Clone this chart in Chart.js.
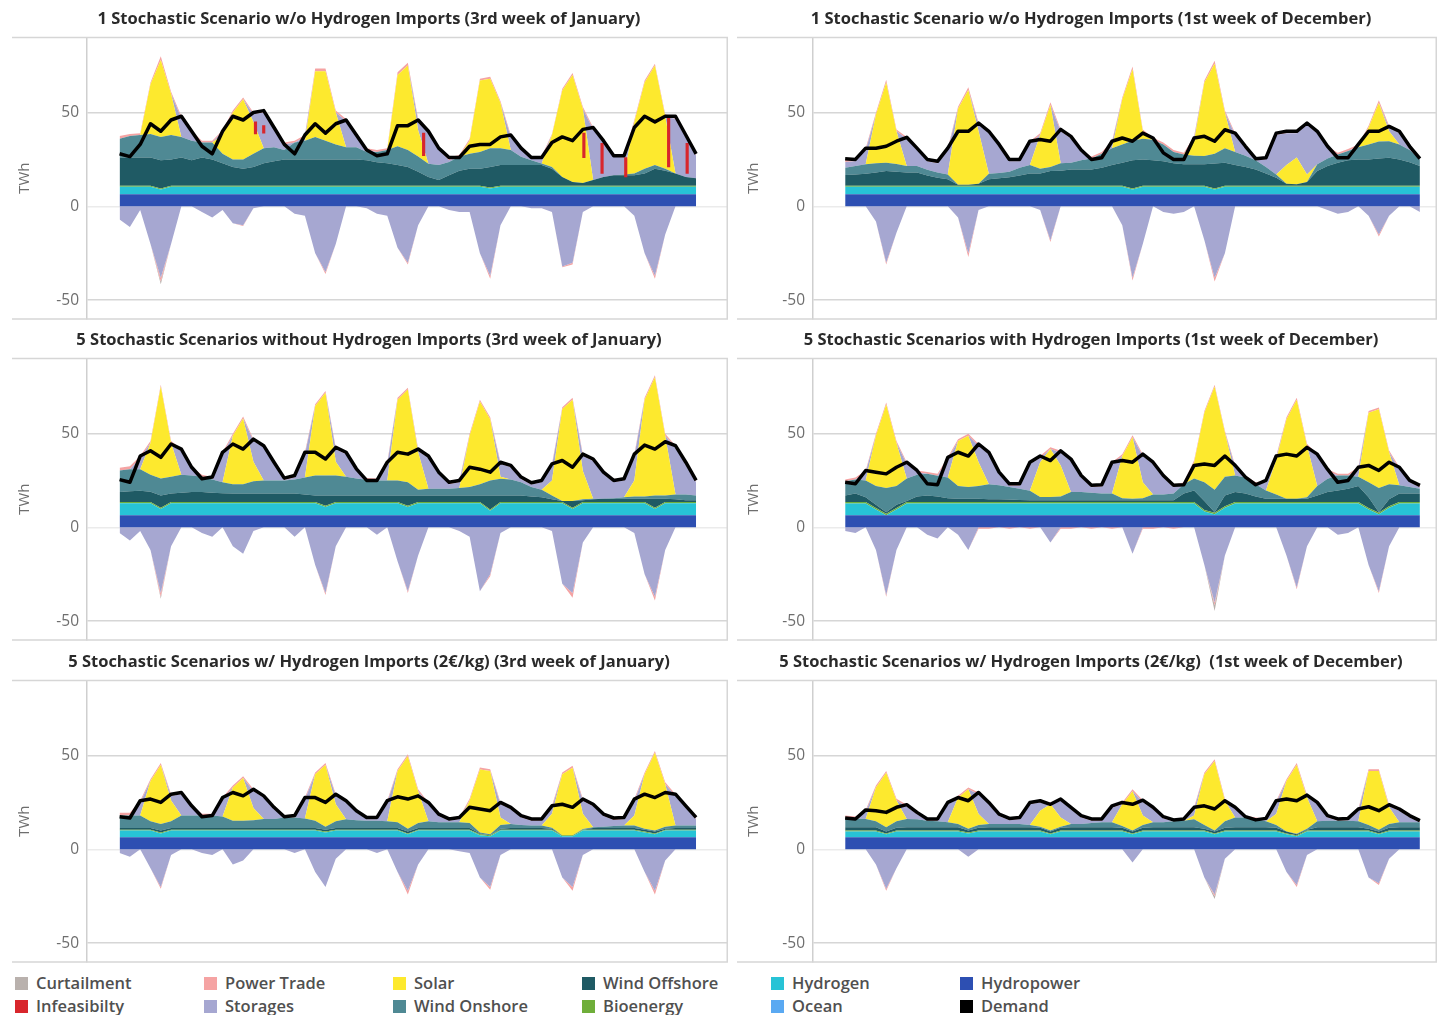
<!DOCTYPE html>
<html>
<head>
<meta charset="utf-8">
<script src="https://cdn.jsdelivr.net/npm/chart.js@4.4.1/dist/chart.umd.min.js"></script>
<style>
  body { margin: 0; background: #fff; width: 1437px; height: 1015px; overflow: hidden; position: relative; font-family: 'Open Sans', sans-serif; }
  canvas { position: absolute; }
  .item { position: absolute; font-size: 16.5px; font-weight: 600; color: #505050; white-space: nowrap; line-height: 20px; }
  .box { display: inline-block; width: 13px; height: 13px; margin-right: 8px; vertical-align: -1px; }
</style>
</head>
<body>
<canvas id="c0" width="720" height="320" style="left:10px;top:2px"></canvas>
<canvas id="c1" width="702" height="320" style="left:735px;top:2px"></canvas>
<canvas id="c2" width="720" height="320" style="left:10px;top:323px"></canvas>
<canvas id="c3" width="702" height="320" style="left:735px;top:323px"></canvas>
<canvas id="c4" width="720" height="320" style="left:10px;top:645px"></canvas>
<canvas id="c5" width="702" height="320" style="left:735px;top:645px"></canvas>
<div id="legend"></div>
<script>
// sample hours (every 3 h over one week)
const hours = [0,3,6,9,12,15,18,21, 24,27,30,33,36,39,42,45, 48,51,54,57,60,63,66,69, 72,75,78,81,84,87,90,93,
  96,99,102,105,108,111,114,117, 120,123,126,129,132,135,138,141, 144,147,150,153,156,159,162,165, 168];
const yTicks = [-50, 0, 50];

const panelTitles = [
  '1 Stochastic Scenario w/o Hydrogen Imports (3rd week of January)',
  '1 Stochastic Scenario w/o Hydrogen Imports (1st week of December)',
  '5 Stochastic Scenarios without Hydrogen Imports (3rd week of January)',
  '5 Stochastic Scenarios with Hydrogen Imports (1st week of December)',
  '5 Stochastic Scenarios w/ Hydrogen Imports (2€/kg) (3rd week of January)',
  '5 Stochastic Scenarios w/ Hydrogen Imports (2€/kg)  (1st week of December)'
];

const legendLabels = ['Curtailment', 'Power Trade', 'Solar', 'Wind Offshore', 'Hydrogen', 'Hydropower',
  'Infeasibilty', 'Storages', 'Wind Onshore', 'Bioenergy', 'Ocean', 'Demand'];
const colors = {
  'Curtailment': '#b9b1ad', 'Infeasibilty': '#d8262c', 'Power Trade': '#f5a3a3', 'Storages': '#a6a7d1',
  'Solar': '#fde92e', 'Wind Onshore': '#4f8994', 'Wind Offshore': '#1f5a64', 'Bioenergy': '#6fae3a',
  'Hydrogen': '#27c3d6', 'Ocean': '#5aa9f2', 'Hydropower': '#2d4fb2', 'Demand': '#000000'
};

// per panel constant layers (TWh)
const hydroLevel = [6.5, 6.5, 6.5, 6.5, 6.5, 6.5];
const bioLevel = [0.5, 0.5, 0.7, 0.8, 0.5, 0.5];

// ---- panel 1: 1 scenario, January
const p1Hydrogen = [4,4,4,4,2.5,4,4,4, 4,4,4,4,4,4,4,4, 4,4,4,4,4,4,4,4, 4,4,4,4,4,4,4,4, 4,4,4,4,3,4,4,4, 4,4,4,4,4,4,4,4, 4,4,4,4,4,4,4,4, 4];
const p1Offshore = [15,15,15,15,15,14,15,13.5, 15,14,12,10,9,10,12,13, 14,14,14,14,14,14,14,14, 13.5,12.5,12,11,10,7.5,4.7,3, 5.6,8,9,9,11,11,11,11, 11,11,9,4.7,2,1.5,3,4.7, 5.6,5.6,5.6,6.5,9,8,6.5,4.7, 4];
const p1Onshore = [10,11.5,12,12.5,12.5,13,11,10.5, 8,9,5,4,5,7,8,7.5, 5,9,10,12,10,8,6.5,6.5, 4.5,5.5,7,10,9,8,7,8, 7,7.4,8,9,10,9,8,4.4, 2.6,0.8,1,0,0,0,0,0, 0,0.4,0.9,2.5,2,1,0,0, 0];
const p1Solar = [0,0,0,26.5,41,22,0,0, 0,0,10,25,32,17,0,0, 0,0,0,35,37,17,0,0, 0,0,0,38,45,14,0,0, 0,0,7,38,37,24,0,0, 0,0,17,46,57,39.5,0,0, 0,0,27.5,46,53,28,0,0, 0];
const p1StoragePos = [0,0,0,0,0,0,10,4, 0,0,2,0,0,4,19,10, 3,0,2,0,0,0,14,6, 1,0,0,0,0,5,16,8, 1,0,0,0,0,0,7,4, 1,3,0,0,0,0,27,18, 10,9,0,0,0,0,29,21, 12];
const p1TradePos = [1.5,1,1,1,2,1,1,1, 1,1,0.5,1,1,1,1,1, 1,1,1,1.5,1.5,1,1,1, 1,1,1,1.5,1.5,1,1,1, 1.5,1,1,1,1,1,1,1, 1,1,0.5,1,1,1,1,1, 1,1,1,1,1,1,1,1, 1];
const p1StorageNeg = [-7,-11,-2,-20,-38,-20,0,0, -3,-6,-2,-9,-10,-1,0,0, 0,-4,-5,-25,-35,-20,0,0, -1,-4,-5,-22,-30,-10,0,0, -2,-3,-3,-25,-37,-10,0,0, -1,-1,-3,-32,-30,-3,0,0, 0,0,-5,-25,-37,-15,0,0, 0];
const p1TradeNeg = [0,0,0,0,-2,0,0,0, 0,0,0,0,-0.5,0,0,0, 0,0,0,0,-1,0,0,0, 0,0,0,0,-1,0,0,0, 0,0,0,0,-1.5,0,0,0, 0,0,0,-0.5,-1,0,0,0, 0,0,0,0,-1.5,0,0,0, 0];
const p1Curtail = [0,0,0,0,-1.5,0,0,0, 0,0,0,0,0,0,0,0, 0,0,0,0,0,0,0,0, 0,0,0,0,0,0,0,0, 0,0,0,0,0,0,0,0, 0,0,0,0,0,0,0,0, 0,0,0,0,0,0,0,0, 0];
const p1Demand = [28,26.5,33,44,40,46,48,40, 32,28,40,48,46,50,51,42, 33,28,38,44,39,44,46,38, 30,27,28,43,43,46,40,31, 26,26,32,33,33,37,38,31, 26,26,34,37,35,41,42,35, 27,27,42,48,45,48,48,38, 28];
const p1InfeasHours = [39.6, 42, 88.6, 135.3, 140.6, 147.5, 160, 165.4];
const p1InfeasLow = [38.6, 39, 27, 26, 17.5, 15.7, 21, 17.5];
const p1InfeasHigh = [45, 43, 39, 39, 33.6, 26, 48, 33.6];

// ---- panel 2: 1 scenario, December
const p2Hydrogen = [4,4,4,4,4,4,4,4, 4,4,4,4,4,4,4,4, 4,4,4,4,4,4,4,4, 4,4,4,4,2.5,4,4,4, 4,4,4,4,2.5,4,4,4, 4,4,4,4,4,4,4,4, 4,4,4,4,4,4,4,4, 4];
const p2Offshore = [5.7,6,6.4,7,7.8,7.5,7,7, 5.5,4.3,3.5,0.5,0.5,1,3.5,4, 4.5,5.5,6.5,6.5,7.8,8,8.7,8.7, 8.7,9.5,11,12.2,15,14,13.5,13, 12,11.4,11.4,11.4,13.3,12.2,11,10, 8.7,6.5,4.3,1,0.8,2,7.8,10.5, 12.2,13.5,14,14,14.5,14.9,14,12.5, 10.5];
const p2Onshore = [3.9,4.5,5,5,4.4,4,3.5,3.5, 3,2.7,2.5,0,0,0,2.9,2.8, 3,4,4.5,2.5,2.2,4,3.5,4.8, 5.8,7.5,9,9.8,10.5,11,11,9, 6,5.2,4.6,4.4,5.2,7.8,7,6, 4.8,3.5,1.7,0,0,0,3.6,4, 4.4,5,6.5,8,9,8.8,8,6.5, 3.5];
const p2Solar = [0,0,0,25.8,42.8,17.5,0,0, 0,0,0,40.5,50.5,28,0,0, 0,0,0,18,33,0,0,0, 0,0,0,24,38,4,0,0, 0,0,8,39.2,48,19,0,0, 0,0,0,10,14.2,4,0,0, 0,0,0,9,20.5,5.3,0,0, 0];
const p2StoragePos = [3,2.5,7.5,0,0,0,14.5,8.5, 4.5,5,13,0,0,3.5,21.6,14, 5.5,3.5,11.7,0,0,17,13,4.5, 0,0,2.7,0,0,0,0,0, 0,0,1.4,0,0,0,9,4, 0,4,21,17,13,26.4,16.6,5.5, 0,0,0.5,0,0,2,6,1, 0];
const p2TradePos = [1.5,1,1,1,1.5,1,1,1, 1,1,1,1,1.5,1,1,1, 1,1,1,1,1.5,1,1,1, 1,1,1,1,1.5,1,1,1, 1,1,1,1,1.5,1,1,1, 1,1,1,1,1,1,1,1, 1,1,1,1,1.5,1,1,1, 1];
const p2StorageNeg = [0,0,0,-8,-30,-14,0,0, 0,0,0,-6,-25,-2,0,0, 0,0,0,-2,-18,0,0,0, 0,0,0,-10,-38,-20,0,-3, -4,-3,0,-18,-38,-25,0,0, 0,0,0,0,0,0,0,-2, -4,-3,0,-5,-15,-5,0,0, -3];
const p2TradeNeg = [0,0,0,0,-1,0,0,0, 0,0,0,0,-2,0,0,0, 0,0,0,0,-1,0,0,0, 0,0,0,0,-1.5,0,0,0, 0,0,0,0,-2,0,0,0, 0,0,0,0,0,0,0,0, 0,0,0,0,-1,0,0,0, 0];
const p2Curtail = [0,0,0,0,0,0,0,0, 0,0,0,0,0,0,0,0, 0,0,0,0,0,0,0,0, 0,0,0,0,0,0,0,0, 0,0,0,0,0,0,0,0, 0,0,0,0,0,0,0,0, 0,0,0,0,0,0,0,0, 0];
const p2Demand = [25.4,25,31,31,32,34.7,36.8,31, 25,24,31,40,40,44.4,40,33, 25,25,34.7,35.6,34.7,41,37.3,30, 25,25.9,34.7,36.4,34.7,39,36.4,28.5, 25,25,36.4,37.3,34.7,40.8,39,32, 25.4,25.9,39,40,40,44.4,40,32, 25.9,25.9,33,40,40,42.6,40,32, 25.4];

// ---- panel 3: 5 scenarios without H2, January
const p3Hydrogen = [6.3,6.3,6.3,6.3,3.3,6.3,6.3,6.3, 6.3,6.3,6.3,6.3,6.3,6.3,6.3,6.3, 6.3,6.3,6.3,6.3,4.3,6.3,6.3,6.3, 6.3,6.3,6.3,6.3,4.3,6.3,6.3,6.3, 6.3,6.3,6.3,6.3,2.3,6.3,6.3,6.3, 6.3,6.3,6.3,6.3,3.3,6.3,6.3,6.3, 6.3,6.3,6.3,6.3,3.3,6.3,6.3,6.3, 6.3];
const p3Offshore = [5.3,5.7,6,5.5,6.5,4.5,5,5.3, 5.3,5,4.7,4.5,4.5,4.5,4.5,4.5, 4.5,4.5,4,3.5,5.5,3.5,3.5,3.5, 3.5,3.5,3.5,3.5,5.5,3.5,3.5,3.5, 3.5,3.5,3.5,3.5,7.5,3.5,3.5,3.5, 3,2.5,1.5,0.5,3.5,1,1.5,1.8, 1.8,1.8,1.8,1.8,4.8,1.8,1.5,1, 0.9];
const p3Onshore = [11.5,11.8,11.5,9,9,9,9.5,8.8, 8.2,7,5.8,5,5,6.5,7,7, 7,7.5,9,10.6,10.6,10.6,10,9, 8.3,8,8,8,7,3,3.6,3.6, 3.6,4,4.5,6,8,8.9,8.5,7, 5,4,2,0,0,0.5,0.3,0, 0.2,0.7,1.2,1.2,1.7,1.7,2.5,3, 2.6];
const p3Solar = [0,0,0,17,49,18,0,0, 0,0,0,25.8,35,10.5,0,0, 0,0,0,37,44.1,7.4,0,0, 0,0,0,43,49.4,20,0,0, 0,0,27.3,44,32.6,1.1,0,0, 0,0,8,49,54,15,0,0, 0,0,8.5,51.5,63,31.8,0,0, 0];
const p3StoragePos = [0,0,6,0,0,0,12.7,3.4, 0,0.3,15,0,0,11,17.5,8.7, 0.2,1.1,12.5,0,0,6.6,12,4.2, 0,0,8.7,0,0,0.7,16.4,7.8, 2.4,3,0,0,0,6.7,6.5,1.8, 1.3,4,7.8,0,0,8,20,13, 8.5,8.9,13,0,0,0,25,16, 7];
const p3TradePos = [1.5,1.5,1,1,1,1,1,1, 1,1,1,1,1,1,1,1, 1,1,1,1,1,1,1,1, 1,1,1,1,1,1,1,1, 1,1,1,1,1,1,1,1, 1,1,1,1,1,1,1,1, 1,1,1,1,1,1,1,1, 1];
const p3StorageNeg = [-3,-7,-2,-12,-35,-10,0,0, -3,-5,0,-10,-14,-2,0,0, 0,-5,0,-20,-35,-10,0,0, 0,-4,0,-18,-34,-15,0,0, 0,-2,-5,-34,-25,-3,0,0, 0,0,-2,-30,-35,-8,0,0, 0,0,-3,-25,-37,-12,0,0, 0];
const p3TradeNeg = [0,0,0,0,-2,0,0,0, 0,0,0,0,0,0,0,0, 0,0,0,0,-1,0,0,0, 0,0,0,0,-1,0,0,0, 0,0,0,0,-1,0,0,0, 0,0,0,0,-2.5,0,0,0, 0,0,0,0,-2,0,0,0, 0];
const p3Curtail = [0,0,0,0,-1,0,0,0, 0,0,0,0,0,0,0,0, 0,0,0,0,0,0,0,0, 0,0,0,0,0,0,0,0, 0,0,0,0,0,0,0,0, 0,0,0,0,0,0,0,0, 0,0,0,0,0,0,0,0, 0];
const p3Demand = [25.4,24,38,40.8,37.3,44.4,41.7,32, 25.9,26.8,40,44.4,41.7,47,43.5,34.7, 26.2,27.6,40,40,36.4,42.6,40,31.2, 25,25,34.7,40,39,41.7,38,29.4, 24,25,32,31,29.4,34.7,33,26.8, 23.8,25,33.8,35.6,32,39,36.4,29.4, 25,25.9,39,43.8,41.7,45.6,43.5,34.7, 25];

// ---- panel 4: 5 scenarios with H2, December
const p4Hydrogen = [6.2,6.2,6.2,3,0,3,6.2,6.2, 6.2,6.2,6.2,6.2,6.2,6.2,6.2,6.2, 6.2,6.2,6.2,6.2,6.2,6.2,6.2,6.2, 6.2,6.2,6.2,6.2,6.2,6.2,6.2,6.2, 6.2,6.2,6.2,2,0.5,4,6.2,6.2, 6.2,6.2,6.2,6.2,6.2,6.2,6.2,6.2, 6.2,6.2,6.2,3,0.5,4,6.2,6.2, 6.2];
const p4Offshore = [3.5,4.5,2.5,1.7,0.7,1.7,0.5,3, 3.5,3,2,1.8,1.8,1.8,1.5,1.5, 1.3,1.1,1,0.9,0.9,0.9,0.9,0.9, 0.9,0.9,0.9,0.9,0.9,0.9,0.9,0.9, 0.9,4.5,6.2,4.7,0.2,5.7,5.3,4.5, 3,1.8,1.8,1.8,1.8,1.8,3.5,5.3, 6.2,7.1,8.5,5.7,0.2,3.7,4.5,4.5, 4.5];
const p4Onshore = [7.5,7.5,9,10,13,10,12,11.5, 11.5,11,11,6.7,6.2,6.7,8,7.4, 6.7,6,5,1.8,1.8,2.1,4.4,4.4, 4.1,3.6,3.6,1.1,0.9,1.1,3.1,3.1, 3.6,5,6.3,10,12,10,8.8,8.5, 6.5,4.4,2.2,0,0,0.7,5,7.1, 7.9,7,5,8,13,8,4.4,3.5, 2.6];
const p4Solar = [0,0,0,26.8,44.5,23,0,0, 0,0,0,24,27.3,12.7,0,0, 0,0,0,18.5,25.5,16.5,0,0, 0,0,0,22.5,32.7,8.5,0,0, 0,0,8.7,37,55,23.5,0,0, 0,0,18.5,42.3,52.7,27.5,0,0, 0,0,0,37,41.9,17,0,0, 0];
const p4StoragePos = [0,0,4.3,0,0,0,7.7,1.3, 0,0,9.8,0,0,8.7,16,6, 0.7,1.6,14.2,2.3,0,6.8,16.6,7.8, 2.9,3.7,15.7,0,0,14,16.2,9.1, 3.4,0,0,0,0,0,4.4,0, 0,4.3,1,0,0,0,16,4.1, 0,0,4,0,0,0,8.6,2.5, 0.8];
const p4TradePos = [1,1,1,1,1,1,1,1, 1,1,1,1,1,1,1,1, 1,1,1,1,1,1,1,1, 1,1,1,1,1,1,1,1, 1,1,1,1,1,1,1,1, 1,1,1,1,1,1,1,1, 1,1,1,1,1,1,1,1, 1];
const p4StorageNeg = [-2,-3,0,-12,-36,-12,0,0, -4,-6,0,-4,-12,0,0,0, 0,0,0,0,-8,0,0,0, 0,0,0,0,-14,0,0,0, 0,0,0,-20,-40,-15,0,0, 0,0,0,-15,-32,-10,0,0, -4,-3,0,-20,-34,-10,0,0, 0];
const p4TradeNeg = [0,0,0,0,-1,0,0,0, 0,0,0,0,0,-0.8,-0.8,0, -0.8,0,-0.8,0,0,-0.8,-0.8,0, -0.8,0,-0.8,0,0,-0.8,-0.8,0, -0.8,0,0,0,-1.5,0,0,0, 0,0,0,0,-1,0,0,0, 0,0,0,0,-1,0,0,0, 0];
const p4Curtail = [0,0,0,0,0,0,0,0, 0,0,0,0,0,0,0,0, 0,0,0,0,0,0,0,0, 0,0,0,0,0,0,0,0, 0,0,0,0,-3,0,0,0, 0,0,0,0,0,0,0,0, 0,0,0,0,0,0,0,0, 0];
const p4Demand = [24,23.2,30.3,29.4,28.5,32,34.7,30.3, 23.2,22.7,37.3,40,38,44.4,40,29.4, 23.2,23.2,34.7,38,35.6,40.8,36.4,27.6, 22.4,22.7,34.7,35.6,34.7,39,34.7,27.6, 22.4,22.7,33,33.8,33,38,33,26.8, 22.7,25,38,39,38,42.6,39,31, 24,25,32,33,30.3,34.7,32,25, 22.4];

// ---- panel 5: 5 scenarios with H2 (2 EUR/kg), January
const p5Hydrogen = [3.5,3.5,3.5,3.5,2,3.5,3.5,3.5, 3.5,3.5,3.5,3.5,3.5,3.5,3.5,3.5, 3.5,3.5,3.5,3.5,2.5,3.5,3.5,3.5, 3.5,3.5,3.5,3.5,1.5,3.5,3.5,3.5, 3.5,3.5,3.5,1,0.5,3.5,3.5,3.5, 3.5,3.5,3.5,0.5,0.5,3.5,3.5,3.5, 3.5,3.5,3.5,2.5,1.5,3.5,3.5,3.5, 3.5];
const p5Offshore = [0.9,0.9,0.9,0.9,1,0.9,0.9,0.9, 0.9,0.9,0.9,0.9,0.9,0.9,0.9,0.9, 0.9,0.9,0.9,0.9,1,0.9,0.9,0.9, 0.9,0.9,0.9,0.9,1,0.9,0.9,0.9, 0.9,0.9,0.9,0.5,0,0.5,0.9,0.9, 0.9,0.9,0.5,0,0,0,0.9,0.9, 0.9,0.9,0.9,1,1,0.5,0.9,0.9, 0.9];
const p5Onshore = [6.6,6.6,6.6,3.6,3.5,3.6,6.6,6.6, 6.6,6.6,6.1,3.9,3.9,4.1,4.8,4.8, 5.6,5.6,5.1,3.9,1.5,3.6,4.6,4.1, 3.9,3.9,3.6,3,1.5,2.6,3.6,3.1, 3,3,2.6,0.5,0.5,2,2.1,1.6, 1.3,1.3,0.5,0,0,0.4,0.4,0.6, 1.1,1.3,1.3,0.5,0.5,1,1.3,1.3, 1.3];
const p5Solar = [0,0,0,21.4,31.5,11,0,0, 0,0,0,17.7,22.7,6.5,0,0, 0,0,0,24.7,33,9,0,0, 0,0,0,27.3,38.6,17,0,0, 0,0,12,33.6,33.7,4,0,0, 0,0,7.5,32.5,36,8.1,0,0, 0,0,5.3,29,41.4,22.7,0,0, 0];
const p5StoragePos = [0,0,6.9,0,0,2.4,11.3,4.2, 0,0,9.1,0,0,9,11.3,5.2, 0,0,10.1,0,0,4.4,8.9,4.1, 0.7,0.7,9.9,0,0,0,9,3.3, 0.8,1.6,0,0,0,7,7.9,4, 2.5,2.5,3.2,0,0,6.8,11.2,5.8, 3.2,3.3,7.8,0,0,0,15.7,9.5, 3.3];
const p5TradePos = [1.5,1.5,1,1,1,1,1,1, 1,1,1,1,1,1,1,1, 1,1,1,1,1,1,1,1, 1,1,1,1,1,1,1,1, 1,1,1,1,1,1,1,1, 1,1,1,1,1,1,1,1, 1,1,1,1,1,1,1,1, 1];
const p5StorageNeg = [-2,-4,0,-10,-20,-3,0,0, -2,-3,0,-8,-6,0,0,0, 0,-2,0,-12,-20,-5,0,0, 0,-2,0,-12,-22,-8,0,0, 0,-1,-2,-15,-20,-3,0,0, 0,0,0,-15,-20,-3,0,0, 0,0,0,-12,-22,-6,0,0, 0];
const p5TradeNeg = [0,0,0,0,-1,0,0,0, 0,0,0,0,0,0,0,0, 0,0,0,0,0,0,0,0, 0,0,0,0,-2,0,0,0, 0,0,0,0,-1.5,0,0,0, 0,0,0,0,-2,0,0,0, 0,0,0,0,-2,0,0,0, 0];
const p5Curtail = [0,0,0,0,0,0,0,0, 0,0,0,0,0,0,0,0, 0,0,0,0,0,0,0,0, 0,0,0,0,0,0,0,0, 0,0,0,0,0,0,0,0, 0,0,0,0,0,0,0,0, 0,0,0,0,0,0,0,0, 0];
const p5Demand = [17.4,16.7,25.9,26.8,25,29.4,30.3,23.2, 17.4,18,27.6,30.3,28.5,32,28.5,22.4, 17.4,18,27.6,27.6,25,29.4,25.9,20.6, 17,17,25.9,28,26.8,28.5,25,18.8, 16.2,17,22.4,21.5,20.6,25,22.4,18, 16.2,16.2,23.2,24,22.4,26.8,24,18.8, 16.7,17,26.8,29.4,27.6,30.3,29.4,23.2, 17];

// ---- panel 6: 5 scenarios with H2 (2 EUR/kg), December
const p6Hydrogen = [3,3,3,3,1.5,3,3,3, 3,3,3,3,2,3,3,3, 3,3,3,3,1.5,3,3,3, 3,3,3,3,1.5,3,3,3, 3,3,3,3,1.5,3,3,3, 3,3,3,1.5,0.5,3,3,3, 3,3,3,3,1.5,3,3,3, 3];
const p6Offshore = [1.8,1.8,1.8,1.8,1,1.5,1.8,1.8, 1.8,1.8,1.8,1.8,1,1.5,1.8,1.8, 1.8,1.8,1.8,1.5,1,1.5,1.8,1.8, 1.8,1.8,1.8,1.5,1,1.5,1.8,1.8, 1.8,1.8,1.8,1,1,1.5,1.8,1.8, 1.8,1.8,1.5,1,0.5,0.5,1.8,1.8, 1.8,1.8,1.8,1,1,1.5,1.8,1.8, 1.8];
const p6Onshore = [5.2,4.7,4.4,3.2,2.3,3.5,4.4,4.2, 3.5,3.2,2.6,1.7,1,1.5,1.7,1.7, 1.7,1.7,1.2,0.5,0.5,0.5,1.7,1.7, 2.2,2.6,2.6,1,0.5,1.5,2.6,2.6, 3.2,3.5,4.2,2,0.5,3.5,5.2,5.2, 4.2,3.2,1.5,0,0.3,0.5,3.2,3.5, 3.5,3.5,3.2,2,1,2,2.6,2.6, 2.6];
const p6Solar = [0,0,0,18,29,11,0,0, 0,0,0,14.1,21,5.8,0,0, 0,0,0,8.6,14,5,0,0, 0,0,0,11.5,21,5,0,0, 0,0,2,27,37,10.9,0,0, 0,0,5.8,26.9,36.7,16.6,0,0, 0,0,0,28.7,31.2,8.9,0,0, 0];
const p6StoragePos = [0,0,3.8,0,0,0,6.6,2.7, 0,0.2,9.6,0,0,10.5,10.5,4.3, 2,2.5,11,4.3,0,8.8,7.9,3.5, 1.2,0.8,7.8,0,0,7.2,7,2, 0,0,3.4,0,0,0,4.4,0, 0,0.5,6,0,0,0.3,9,1.7, 0,0.2,5.5,0,0,0.4,6.1,2.6, 0];
const p6TradePos = [1,1,1,1,1,1,1,1, 1,1,1,1,1,1,1,1, 1,1,1,1,1,1,1,1, 1,1,1,1,1,1,1,1, 1,1,1,1,1,1,1,1, 1,1,1,1,1,1,1,1, 1,1,1,1,1,1,1,1, 1];
const p6StorageNeg = [0,0,0,-8,-21,-10,0,0, 0,0,0,0,-4,0,0,0, 0,0,0,0,0,0,0,0, 0,0,0,0,-7,0,0,0, 0,0,0,-15,-24,-5,0,0, 0,0,0,-12,-19,-3,0,0, 0,0,0,-15,-18,-5,0,0, 0];
const p6TradeNeg = [0,0,0,0,-1,0,0,0, 0,0,0,0,0,0,0,0, 0,0,0,0,0,0,0,0, 0,0,0,0,0,0,0,0, 0,0,0,0,-1,0,0,0, 0,0,0,0,-1,0,0,0, 0,0,0,0,-1,0,0,0, 0];
const p6Curtail = [0,0,0,0,0,0,0,0, 0,0,0,0,0,0,0,0, 0,0,0,0,0,0,0,0, 0,0,0,0,0,0,0,0, 0,0,0,0,-1.5,0,0,0, 0,0,0,0,0,0,0,0, 0,0,0,0,0,0,0,0, 0];
const p6Demand = [16.7,16.2,21,20.6,19.7,22.4,23.8,19.7, 16.2,16.2,25,27.6,25.9,30.3,25,18.8, 16.5,17,25,25.9,24,26.8,22.4,18, 16.2,16.2,23.2,25,24,26.2,22.4,17.4, 15.7,16.2,22.4,23.2,21.5,25.9,22.4,17.4, 15.7,16.5,25.9,26.8,25.9,28.9,25,18, 16.2,16.5,21.5,22.7,20.6,23.8,21.5,18, 15.3];

const panels = [
  {hyd: p1Hydrogen, off: p1Offshore, on: p1Onshore, sol: p1Solar, stP: p1StoragePos, trP: p1TradePos, stN: p1StorageNeg, trN: p1TradeNeg, cur: p1Curtail, dem: p1Demand},
  {hyd: p2Hydrogen, off: p2Offshore, on: p2Onshore, sol: p2Solar, stP: p2StoragePos, trP: p2TradePos, stN: p2StorageNeg, trN: p2TradeNeg, cur: p2Curtail, dem: p2Demand},
  {hyd: p3Hydrogen, off: p3Offshore, on: p3Onshore, sol: p3Solar, stP: p3StoragePos, trP: p3TradePos, stN: p3StorageNeg, trN: p3TradeNeg, cur: p3Curtail, dem: p3Demand},
  {hyd: p4Hydrogen, off: p4Offshore, on: p4Onshore, sol: p4Solar, stP: p4StoragePos, trP: p4TradePos, stN: p4StorageNeg, trN: p4TradeNeg, cur: p4Curtail, dem: p4Demand},
  {hyd: p5Hydrogen, off: p5Offshore, on: p5Onshore, sol: p5Solar, stP: p5StoragePos, trP: p5TradePos, stN: p5StorageNeg, trN: p5TradeNeg, cur: p5Curtail, dem: p5Demand},
  {hyd: p6Hydrogen, off: p6Offshore, on: p6Onshore, sol: p6Solar, stP: p6StoragePos, trP: p6TradePos, stN: p6StorageNeg, trN: p6TradeNeg, cur: p6Curtail, dem: p6Demand}
];

const FONT = "'Open Sans', sans-serif";
const GRAY = '#d6d6d6';

// frame: top / bottom lines run under the tick labels, right border
const frameLines = {
  id: 'frameLines',
  beforeDatasetsDraw(chart) {
    const {ctx, chartArea: a} = chart;
    ctx.save();
    ctx.strokeStyle = GRAY;
    ctx.lineWidth = 1.5;
    ctx.beginPath();
    ctx.moveTo(2, a.top); ctx.lineTo(a.right, a.top);
    ctx.moveTo(2, a.bottom); ctx.lineTo(a.right, a.bottom);
    ctx.moveTo(a.right - 0.75, a.top); ctx.lineTo(a.right - 0.75, a.bottom);
    ctx.stroke();
    ctx.restore();
  }
};

function area(label, data, stack, fill) {
  return {
    type: 'line', label: label, data: data, stack: stack, fill: fill,
    backgroundColor: colors[label], borderWidth: 0, pointRadius: 0, tension: 0
  };
}

function makePanel(i) {
  const p = panels[i];
  const isRight = i % 2 === 1;
  const flat = v => hours.map(() => v);

  const datasets = [
    area('Hydropower', flat(hydroLevel[i]), 'pos', 'origin'),
    area('Hydrogen', p.hyd, 'pos', '-1'),
    area('Bioenergy', flat(bioLevel[i]), 'pos', '-1'),
    area('Wind Offshore', p.off, 'pos', '-1'),
    area('Wind Onshore', p.on, 'pos', '-1'),
    area('Solar', p.sol, 'pos', '-1'),
    area('Storages', p.stP, 'pos', '-1'),
    area('Power Trade', p.trP, 'pos', '-1'),
    area('Storages', p.stN, 'neg', 'origin'),
    area('Power Trade', p.trN, 'neg', '-1'),
    area('Curtailment', p.cur, 'neg', '-1'),
    {
      type: 'line', label: 'Demand', data: p.dem, stack: 'dem', fill: false, order: -1,
      borderColor: '#000', borderWidth: 3.5, pointRadius: 0, tension: 0, borderJoinStyle: 'round'
    }
  ];
  if (i === 0) {
    datasets.push({
      type: 'bar', label: 'Infeasibilty', yAxisID: 'yInf', order: -0.5,
      data: p1InfeasHours.map((h, k) => ({x: h, y: [p1InfeasLow[k], p1InfeasHigh[k]]})),
      backgroundColor: colors['Infeasibilty'], barThickness: 2.5
    });
  }

  new Chart(document.getElementById('c' + i), {
    type: 'line',
    data: {labels: hours, datasets: datasets},
    options: {
      responsive: false,
      animation: false,
      devicePixelRatio: 1,
      layout: {padding: {left: isRight ? 10 : 0, right: isRight ? 0 : 2, top: 0, bottom: 3}},
      plugins: {
        legend: {display: false},
        tooltip: {enabled: false},
        title: {
          display: true, text: panelTitles[i], color: '#2a2a2a',
          font: {family: FONT, size: 16.5, weight: 'bold'},
          padding: {top: 7.8, bottom: 7.8}
        }
      },
      scales: {
        x: {
          type: 'linear', display: false, offset: false,
          min: isRight ? -9.4 : -9.5, max: isRight ? 173 : 177.3
        },
        y: {
          min: -60, max: 90, stacked: true,
          afterBuildTicks: axis => { axis.ticks = yTicks.map(v => ({value: v})); },
          afterFit: axis => {
            axis.width = isRight ? 68 : 77;
            axis.paddingTop = 0;
            axis.paddingBottom = 0;
          },
          grid: {
            color: ctx => (ctx.tick && ctx.tick.value === 0) ? '#ebebeb' : GRAY,
            lineWidth: 1.5, drawTicks: false
          },
          border: {display: true, color: '#cfcfcf', width: 1.5},
          ticks: {color: '#6e6e6e', font: {family: FONT, size: 15.5}, padding: 8},
          title: {
            display: true, text: 'TWh', color: '#6e6e6e',
            font: {family: FONT, size: 15}, padding: {top: isRight ? 0 : 6, bottom: 0}
          }
        },
        yInf: {display: false, min: -60, max: 90, stacked: false}
      }
    },
    plugins: [frameLines]
  });
}

for (let i = 0; i < panels.length; i++) {
  makePanel(i);
}

// legend (two rows, six columns)
const legend = document.getElementById('legend');
for (let k = 0; k < legendLabels.length; k++) {
  const col = k % 6;
  const row = Math.floor(k / 6);
  const item = document.createElement('div');
  item.className = 'item';
  item.style.left = (15 + col * 189) + 'px';
  item.style.top = (973 + row * 23) + 'px';
  const box = document.createElement('span');
  box.className = 'box';
  box.style.background = colors[legendLabels[k]];
  item.appendChild(box);
  item.appendChild(document.createTextNode(legendLabels[k]));
  legend.appendChild(item);
}
</script>
</body>
</html>
